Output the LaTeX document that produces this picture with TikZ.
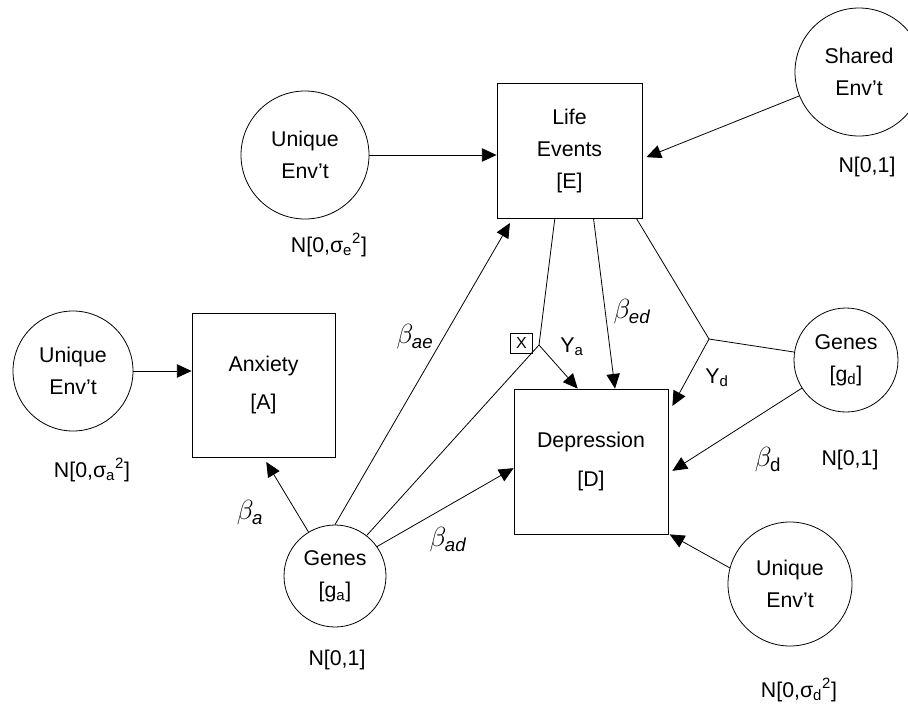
\documentclass[tikz,border=0pt]{standalone}
\usepackage{amsmath}
\usepackage{fontspec}
\setmainfont{Liberation Sans}
\usetikzlibrary{arrows.meta}

\tikzset{
  latent/.style={draw, circle, minimum size=#1, inner sep=0pt, align=center},
  measure/.style={draw, rectangle, inner sep=0pt, align=center},
  effect/.style={-{Triangle[length=11pt,width=10pt]}},
  coef/.style={font=\fontsize{20}{24}\selectfont}
}

\begin{document}
\begin{tikzpicture}[x=0.75pt, y=-0.75pt, line width=0.6pt,
    font=\fontsize{16}{24}\selectfont]
  \useasboundingbox (0,0) rectangle (908,704);

  % variables
  \node[latent=96pt] (shared) at (859,72) {Shared\\Env't};
  \node[measure, minimum width=108.75pt, minimum height=101.25pt] (life) at (569.5,150.5) {Life\\Events\\{[E]}};
  \node[latent=96pt] (uniqE) at (305,155) {Unique\\Env't};
  \node[latent=90pt] (uniqA) at (73,371) {Unique\\Env't};
  \node[measure, minimum width=107.25pt, minimum height=108pt] (anx) at (263.5,385) {Anxiety\\[5pt]{[A]}};
  \node[latent=76.5pt] (genA) at (335,576) {Genes\\{[g\textsubscript{a}]}};
  \node[measure, minimum width=115.5pt, minimum height=108.75pt] (dep) at (591,461.5) {Depression\\[5pt]{[D]}};
  \node[latent=78pt] (genD) at (846,360) {Genes\\{[g\textsubscript{d}]}};
  \node[latent=93pt] (uniqD) at (790,584) {Unique\\Env't};

  % distributions
  \node (nshared) at (867,167) {N[0,1]};
  \node (nuniqE) at (329,245) {N[0,σ\textsubscript{e}\textsuperscript{2}]};
  \node (nuniqA) at (92,470) {N[0,σ\textsubscript{a}\textsuperscript{2}]};
  \node (ngenA) at (337,660) {N[0,1]};
  \node (ngenD) at (850,460) {N[0,1]};
  \node (nuniqD) at (799,690) {N[0,σ\textsubscript{d}\textsuperscript{2}]};

  % paths
  \coordinate (ja) at (539,345);
  \coordinate (jd) at (709,339);
  \draw[effect] (uniqE.east) -- (uniqE.east -| life.west);
  \draw[effect] (shared) -- ([xshift=3pt,yshift=-5pt]life.east);
  \draw[effect] (uniqA.east) -- (uniqA.east -| anx.west);
  \draw[effect, shorten >=4pt] (genA) -- (anx.south);
  \draw[effect, shorten >=4pt] (genA.north) -- ([xshift=12pt]life.south west);
  \draw (genA.52) -- (ja) -- ([xshift=-11pt]life.south);
  \draw[effect] (ja) -- ([xshift=-10pt]dep.north);
  \draw[effect] ([xshift=18pt]life.south) -- ([xshift=18pt]dep.north);
  \draw ([xshift=-4.5pt]life.south east) -- (jd) -- (genD);
  \draw[effect] (jd) -- ([xshift=3pt,yshift=-13pt]dep.north east);
  \draw[effect] (genD) -- ([xshift=3pt,yshift=-7pt]dep.east);
  \draw[effect] (uniqD.165) -- ([xshift=1pt]dep.south east);
  \draw[effect] (genA.35) -- ([yshift=-5pt]dep.west);

  % coefficients
  \node[coef] (bae) at (415,337) {$\beta_{\textit{ae}}$};
  \node[coef] (bed) at (632,312) {$\beta_{\textit{ed}}$};
  \node[coef] (ba) at (250,513) {$\beta_{\textit{a}}$};
  \node[coef] (bad) at (448,540) {$\beta_{\textit{ad}}$};
  \node[coef] (bd) at (768,460) {$\beta_{\text{d}}$};
  \node (ya) at (572,347) {Y\textsubscript{a}};
  \node (yd) at (717,378) {Y\textsubscript{d}};
  \node[draw, inner sep=0pt, minimum width=17pt, minimum height=15pt,
        font=\fontsize{12}{14}\selectfont] (xbox) at (521.5,343) {X};
\end{tikzpicture}
\end{document}
